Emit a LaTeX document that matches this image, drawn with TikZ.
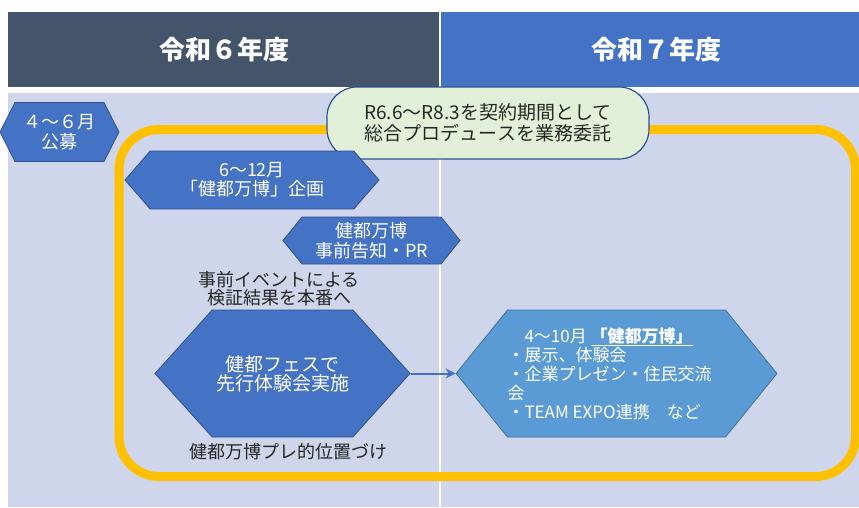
\documentclass[tikz,border=0pt]{standalone}
\usepackage{fontspec}
\setmainfont{Noto Sans CJK JP}
\usetikzlibrary{shapes.symbols,arrows.meta}
\definecolor{headdark}{HTML}{44546A}
\definecolor{headblue}{HTML}{4472C4}
\definecolor{bodybg}{HTML}{CFD5EA}
\definecolor{hexfill}{HTML}{4472C4}
\definecolor{hexline}{HTML}{2F528F}
\definecolor{expofill}{HTML}{5B9BD5}
\definecolor{expoline}{HTML}{41719C}
\definecolor{frameyellow}{HTML}{FFC000}
\definecolor{boxgreen}{HTML}{E2F0D9}
\def\fs#1#2{\fontsize{#1}{#2}\selectfont}
\tikzset{
  hexa/.style={signal, signal to=west and east, draw=hexline, fill=hexfill,
    text=white, inner sep=0pt, line width=0.8pt, align=center},
  note/.style={text=black!85, align=center, inner sep=0pt},
}

\begin{document}
\begin{tikzpicture}[x=1pt,y=-1pt]
			%%%%% START %%%%%
			\useasboundingbox (0,0) rectangle (859,507);
			
			% header
			\fill[headdark] (8,12) rectangle (439,87);
			\fill[headblue] (441,12) rectangle (859,87);
			\node[text=white, font=\fs{26}{28}\bfseries] (r6) at (224,50) {令和６年度};
			\node[text=white, font=\fs{26}{28}\bfseries] (r7) at (656,50) {令和７年度};
			
			% body
			\fill[bodybg] (8,93) rectangle (859,507);
			\draw[white, line width=1.5pt] (440,93) -- (440,507);
			
			% contract frame
			\draw[frameyellow, line width=9pt, rounded corners=40pt] (119,129.5) rectangle (855.5,476.5);
			\node[draw=hexline, fill=boxgreen, line width=1.2pt, rounded corners=30pt,
			      minimum width=322pt, minimum height=72pt, note, font=\fs{19}{21}] (itaku) at (488,123)
			      {R6.6～R8.3を契約期間として\\総合プロデュースを業務委託};
			
			\node[hexa, minimum width=119pt, minimum height=59pt, signal pointer angle=126,
			      font=\fs{18}{20}] (koubo) at (59.5,132) {４～６月\\公募};
			\node[hexa, minimum width=254pt, minimum height=58pt, signal pointer angle=98,
			      font=\fs{18}{19}] (kikaku) at (252,180) {6～12月\\「健都万博」企画};
			\node[hexa, minimum width=177pt, minimum height=47pt, signal pointer angle=102,
			      font=\fs{18}{20}] (kokuchi) at (371.5,240.5) {健都万博\\事前告知・PR};
			
			\node[note, font=\fs{18}{18}] (kensho) at (279,289) {事前イベントによる\\検証結果を本番へ};
			\node[hexa, minimum width=255pt, minimum height=127pt, signal pointer angle=96,
			      font=\fs{19}{19}] (fes) at (282.5,373.5) {健都フェスで\\先行体験会実施};
			\node[note, font=\fs{18}{20}] (pre) at (288,452) {健都万博プレ的位置づけ};
			
			\node[hexa, draw=expoline, fill=expofill, align=left, minimum width=315pt,
			      minimum height=127pt, signal pointer angle=102, font=\fs{17}{19}] (expo) at (616.5,373.5)
			      {　4～10月 \underline{\textbf{「健都万博」}}\\・展示、体験会\\・企業プレゼン・住民交流\rule{14pt}{0pt}\\会\\・TEAM EXPO連携　など};
			
			\draw[headblue, line width=2pt, -{Stealth[length=10pt,width=10pt]}] (fes.east) -- (expo.west);
			
			%%%%% END %%%%%
\end{tikzpicture}
\end{document}
